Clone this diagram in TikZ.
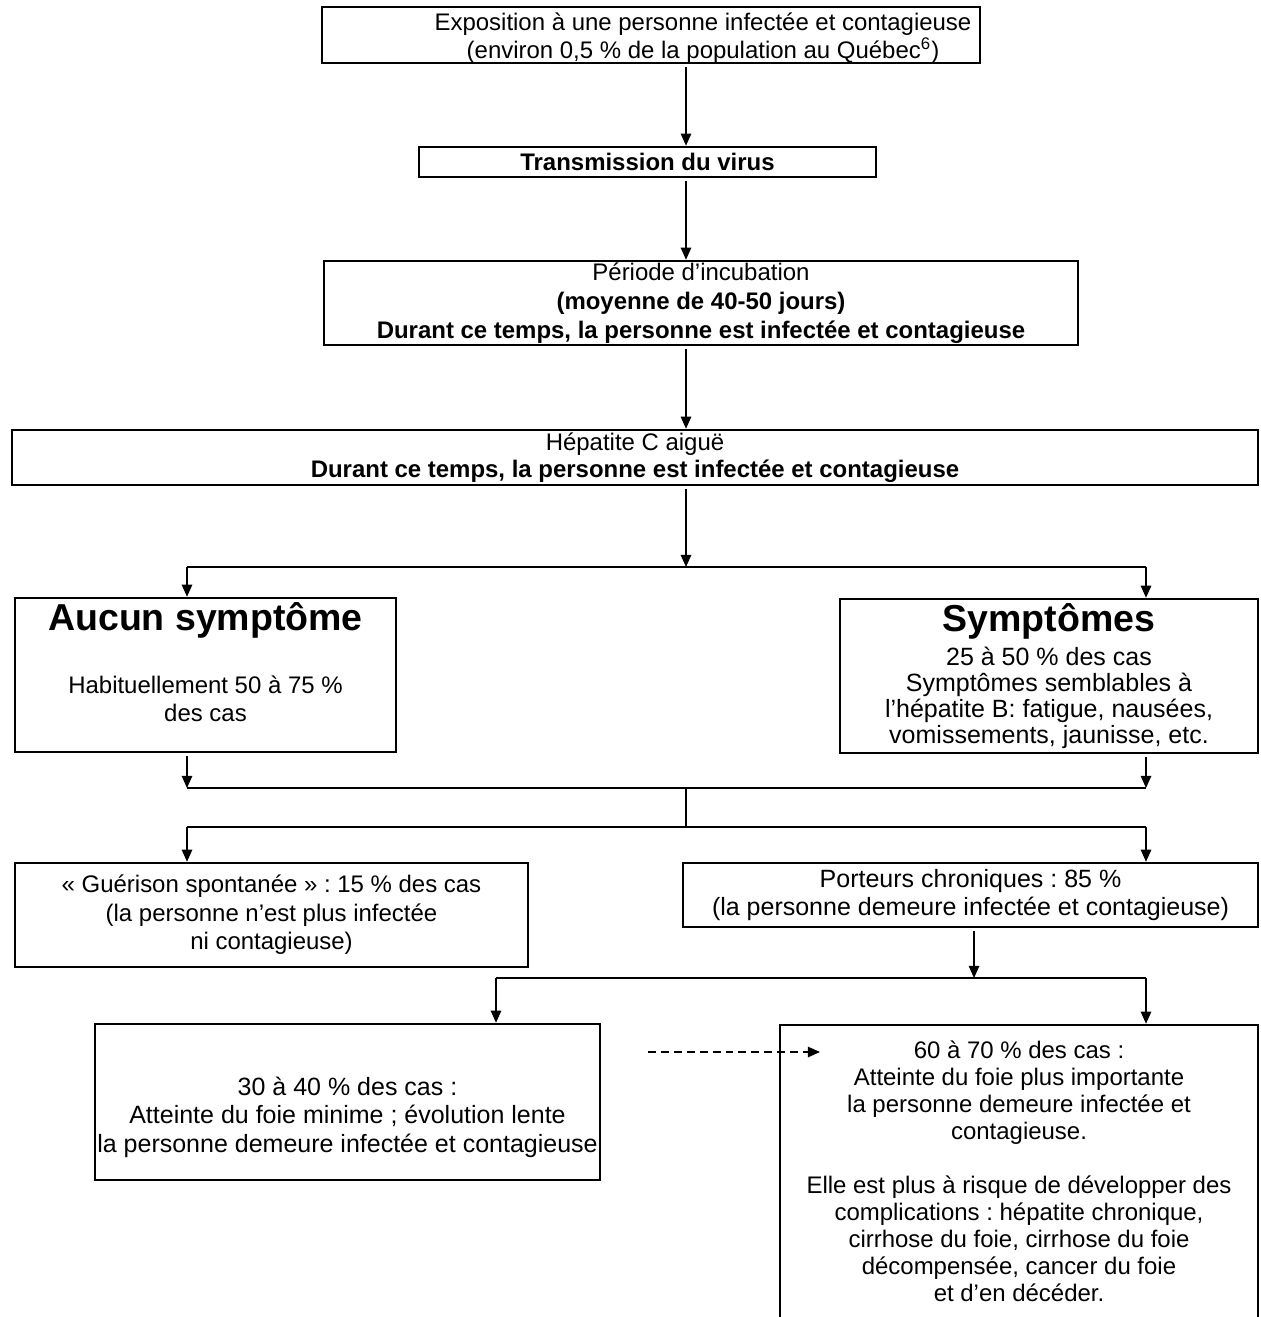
\documentclass[tikz,border=0pt]{standalone}
\usepackage{fontspec}
\setmainfont{Liberation Sans}
\usepackage{tikz}
\usetikzlibrary{positioning, calc}
\usetikzlibrary{arrows.meta}
\frenchspacing
\newcommand{\txtA}{\fontsize{12}{13.8}\selectfont}
\newcommand{\txtB}{\fontsize{11.5}{13.2}\selectfont}
\tikzstyle{flowbox}=[rectangle,draw=black,line width=1.2pt,inner sep=0pt,align=center,font=\txtB]
\tikzstyle{boxtext}=[inner sep=0pt,align=center,font=\txtB]
\tikzstyle{flowarrow} = [-{Triangle[length=5.8pt,width=5pt]},line width=0.7pt]
\tikzstyle{flowline} = [-,line width=0.9pt]

\begin{document}
\begin{tikzpicture}[x=0.48pt,y=-0.48pt]
        \useasboundingbox (0,0) rectangle (1261,1317);
        % columns and rows of the connectors
        \coordinate (colL) at (187,0);
        \coordinate (colM) at (686,0);
        \coordinate (colR) at (1146,0);
        \coordinate (colP) at (974,0);
        \coordinate (colQ) at (496,0);
        \coordinate (rowA) at (0,567);
        \coordinate (rowB) at (0,788);
        \coordinate (rowC) at (0,827);
        \coordinate (rowD) at (0,978);
        \coordinate (dashA) at (648,1052);
        \coordinate (dashB) at (820,1052);

        \node[flowbox, minimum width=315.8pt, minimum height=26.9pt] (expo) at (651,35) {};
        \node[boxtext] (expotxt) at (703,38)
            {Exposition à une personne infectée et contagieuse\\(environ 0,5 \% de la population au Québec\textsuperscript{6})};
        \node[flowbox, minimum width=219.4pt, minimum height=14.4pt, font=\txtB\bfseries] (trans) at (647.5,162)
            {Transmission du virus};
        \node[flowbox, minimum width=361.9pt, minimum height=40.3pt, font=\fontsize{11.5}{13.8}\selectfont] (incub) at (701,303)
            {Période d’incubation\\\textbf{(moyenne de 40-50 jours)}\\\textbf{Durant ce temps, la personne est infectée et contagieuse}};
        \node[flowbox, minimum width=598.1pt, minimum height=26.4pt] (hepc) at (635,457.5)
            {Hépatite C aiguë\\\textbf{Durant ce temps, la personne est infectée et contagieuse}};
        \node[flowbox, minimum width=182.9pt, minimum height=73.9pt] (aucun) at (205.5,675) {};
        \node[boxtext, font=\fontsize{18}{21}\selectfont\bfseries] (aucuntitle) at (205.5,620) {Aucun symptôme};
        \node[boxtext] (aucuntxt) at (205.5,699) {Habituellement 50 à 75 \%\\des cas};
        \node[flowbox, minimum width=200.6pt, minimum height=73.9pt, font=\fontsize{12}{12.5}\selectfont] (sympt) at (1049,676)
            {{\fontsize{18}{21}\selectfont\bfseries Symptômes}\\[2.6pt]25 à 50 \% des cas\\Symptômes semblables à\\l’hépatite B: fatigue, nausées,\\vomissements, jaunisse, etc.};
        \node[flowbox, minimum width=246.2pt, minimum height=49.9pt, font=\fontsize{11.5}{13.7}\selectfont] (gueri) at (271.5,915)
            {« Guérison spontanée » : 15 \% des cas\\(la personne n’est plus infectée\\ni contagieuse)};
        \node[flowbox, minimum width=276pt, minimum height=30.7pt, font=\fontsize{12}{13.2}\selectfont] (porteur) at (970.5,895)
            {Porteurs chroniques : 85 \%\\(la personne demeure infectée et contagieuse)};
        \node[flowbox, minimum width=242.4pt, minimum height=74.9pt] (lente) at (347.5,1102) {};
        \node[boxtext, font=\fontsize{12}{13.7}\selectfont] (lentetxt) at (347.5,1117)
            {30 à 40 \% des cas :\\Atteinte du foie minime ; évolution lente\\la personne demeure infectée et contagieuse};
        \node[flowbox, minimum width=229.4pt, minimum height=148.8pt] (grave) at (1019,1180) {};
        \node[boxtext, anchor=north, font=\fontsize{11.5}{13}\selectfont] (gravetxt) at (1019,1040)
            {60 à 70 \% des cas :\\Atteinte du foie plus importante\\la personne demeure infectée et\\contagieuse.\\[13pt]Elle est plus à risque de développer des\\complications : hépatite chronique,\\cirrhose du foie, cirrhose du foie\\décompensée, cancer du foie\\et d’en décéder.};

        % main column
        \draw[flowarrow, shorten <=1.5pt] (expo.south -| colM) -- (trans.north -| colM);
        \draw[flowarrow, shorten <=1.5pt] (trans.south -| colM) -- (incub.north -| colM);
        \draw[flowarrow, shorten <=1.5pt] (incub.south -| colM) -- (hepc.north -| colM);
        \draw[flowarrow, shorten <=1.5pt] (hepc.south -| colM) -- (colM |- rowA);

        % first split
        \draw[flowline] (colL |- rowA) -- (colR |- rowA);
        \draw[flowarrow] (colL |- rowA) -- (aucun.north -| colL);
        \draw[flowarrow] (colR |- rowA) -- (sympt.north -| colR);

        % join and second split
        \draw[flowarrow, shorten <=1.5pt] (aucun.south -| colL) -- (colL |- rowB);
        \draw[flowarrow, shorten <=1.5pt] (sympt.south -| colR) -- (colR |- rowB);
        \draw[flowline] (colL |- rowB) -- (colR |- rowB);
        \draw[flowline] (colM |- rowB) -- (colM |- rowC);
        \draw[flowline] (colL |- rowC) -- (colR |- rowC);
        \draw[flowarrow] (colL |- rowC) -- (gueri.north -| colL);
        \draw[flowarrow] (colR |- rowC) -- (porteur.north -| colR);

        % chronic carriers
        \draw[flowarrow, shorten <=1.5pt] (porteur.south -| colP) -- (colP |- rowD);
        \draw[flowline] (colQ |- rowD) -- (colR |- rowD);
        \draw[flowarrow] (colQ |- rowD) -- (lente.north -| colQ);
        \draw[flowarrow] (colR |- rowD) -- (grave.north -| colR);
        \draw[flowarrow, dash pattern=on 3.8pt off 2.4pt] (dashA) -- (dashB);
\end{tikzpicture}
\end{document}
